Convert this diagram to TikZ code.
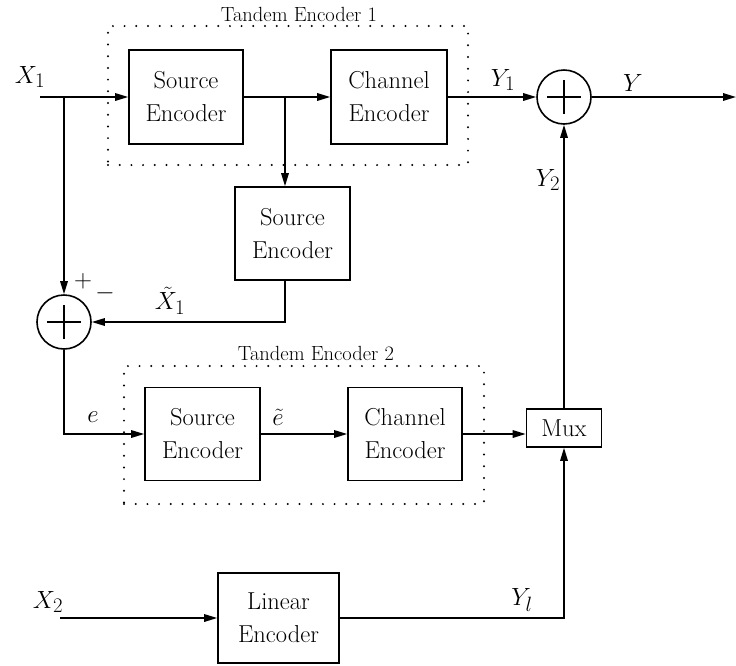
\documentclass[tikz,border=0pt]{standalone}
\usetikzlibrary{arrows.meta,calc}
\begin{document}
\begin{tikzpicture}[x=1pt,y=-1pt,
  blk/.style={draw, line width=1.6pt, align=center, inner sep=0pt, font=\fontsize{24.5}{33}\selectfont},
  sumc/.style={draw, circle, line width=1.6pt, minimum size=54pt, inner sep=0pt},
  conn/.style={line width=1.6pt},
  arr/.style={conn, -{Triangle[length=13pt,width=7.5pt]}},
  grp/.style={draw, line width=2.2pt, dash pattern=on 0pt off 11.7pt, line cap=round, inner sep=0pt},
  lbl/.style={font=\fontsize{29}{32}\selectfont, inner sep=0pt},
  sgn/.style={font=\fontsize{28}{30}\selectfont, inner sep=0pt},
  ttl/.style={font=\fontsize{20.5}{22}\selectfont, inner sep=0pt}]

\useasboundingbox (0,0) rectangle (736,665);

% groups
\node[grp, minimum width=360pt, minimum height=139pt] (te1) at (288,95.5) {};
\node[ttl] (te1t) at (299,14) {Tandem Encoder 1};
\node[grp, minimum width=360pt, minimum height=138pt] (te2) at (304,435) {};
\node[ttl] (te2t) at (316,353) {Tandem Encoder 2};

% blocks
\node[blk, minimum width=114pt, minimum height=94pt] (se1) at (186,97) {Source\\Encoder};
\node[blk, minimum width=116pt, minimum height=94pt] (ce1) at (389,97) {Channel\\Encoder};
\node[blk, minimum width=115pt, minimum height=93pt] (se2) at (292.5,233.5) {Source\\Encoder};
\node[blk, minimum width=115pt, minimum height=93pt] (se3) at (202.5,434) {Source\\Encoder};
\node[blk, minimum width=114pt, minimum height=93pt] (ce3) at (405,434) {Channel\\Encoder};
\node[blk, minimum width=75pt, minimum height=38pt] (mux) at (564,428) {Mux};
\node[blk, minimum width=121pt, minimum height=90pt] (le) at (278.5,618) {Linear\\Encoder};

% summing junctions
\node[sumc] (s1) at (564,97) {};
\node[sumc] (s2) at (64,322) {};
\draw[conn] ($(s1)+(-17,0)$) -- ($(s1)+(17,0)$);
\draw[conn] ($(s1)+(0,-17)$) -- ($(s1)+(0,17)$);
\draw[conn] ($(s2)+(-17,0)$) -- ($(s2)+(17,0)$);
\draw[conn] ($(s2)+(0,-17)$) -- ($(s2)+(0,17)$);

% coordinates
\coordinate (x1in) at (40,97);
\coordinate (br0) at (64,97);
\coordinate (br1) at (285,97);
\coordinate (yout) at (736,97);
\coordinate (x2in) at (60,618);

% connectors
\draw[arr] (x1in) -- (se1);
\draw[arr] (se1) -- (ce1);
\draw[arr] (br1) -- (br1 |- se2.north);
\draw[arr] (br0) -- (s2);
\draw[arr] (ce1) -- (s1);
\draw[arr] (s1) -- (yout);
\draw[arr] (se2.south -| br1) |- (s2);
\draw[arr] (s2) |- (se3);
\draw[arr] (se3) -- (ce3);
\draw[arr] (ce3) -- (ce3 -| mux.west);
\draw[arr] (mux) -- (s1);
\draw[arr] (x2in) -- (le);
\draw[arr] (le) -| (mux);

% labels
\node[lbl] (lx1) at (30,77) {$X_1$};
\node[lbl] (ly1) at (503,80) {$Y_1$};
\node[lbl] (ly) at (633,83) {$Y$};
\node[lbl] (ly2) at (548,180) {$Y_2$};
\node[lbl] (lx1t) at (170,301) {$\tilde{X}_1$};
\node[sgn] (lplus) at (83,281) {$+$};
\node[sgn] (lminus) at (105,293) {$-$};
\node[lbl] (le1) at (93,417) {$e$};
\node[lbl] (le2) at (278,417) {$\tilde{e}$};
\node[lbl] (lx2) at (48,602) {$X_2$};
\node[lbl] (lyl) at (522,600) {$Y_l$};
\end{tikzpicture}
\end{document}
